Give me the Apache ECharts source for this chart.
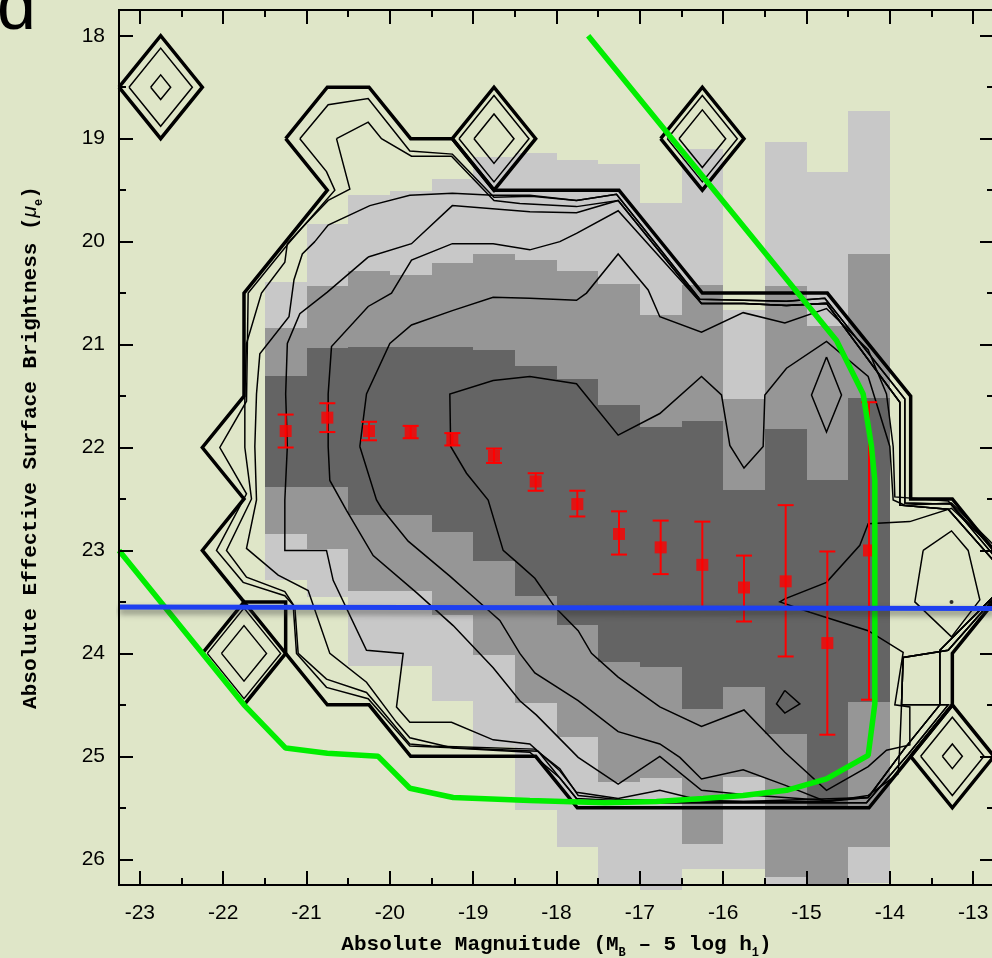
<!DOCTYPE html>
<html><head><meta charset="utf-8">
<script src="https://cdn.jsdelivr.net/npm/echarts@6/dist/echarts.min.js"></script>
<style>html,body{margin:0;padding:0;background:#dfe6c8;}#c{width:992px;height:958px;}</style>
</head><body><div id="c"></div>
<script>
// ---------- axes ----------
const xMin = -23.25, xMax = -12.75, yMin = 17.75, yMax = 26.25;
const xMajor = [-23,-22,-21,-20,-19,-18,-17,-16,-15,-14,-13];
const xMinor = [-22.5,-21.5,-20.5,-19.5,-18.5,-17.5,-16.5,-15.5,-14.5,-13.5];
const yMajor = [18,19,20,21,22,23,24,25,26];
const yMinor = [18.5,19.5,20.5,21.5,22.5,23.5,24.5,25.5];

// ---------- grey histogram (per 0.5-mag column, band edges in mu) ----------
const colLeft = [-21.5,-21,-20.5,-20,-19.5,-19,-18.5,-18,-17.5,-17,-16.5,-16,-15.5,-15,-14.5];
const colWidth = 0.5;
const lightTop = [20.39,19.83,19.55,19.51,19.39,19.18,19.14,19.21,19.25,19.62,19.10,20.66,19.03,19.32,18.73];
const medTop   = [20.84,20.43,20.29,20.32,20.21,20.12,20.18,20.29,20.41,20.71,20.42,21.53,20.43,20.82,20.12];
const darkTop  = [21.31,21.03,21.02,21.02,21.02,21.05,21.21,21.33,21.59,21.80,21.74,22.41,21.82,22.32,21.52];
const darkBot  = [22.38,22.38,22.66,22.66,22.82,23.10,23.44,23.72,24.08,24.13,24.54,24.33,24.78,25.49,24.47];
const medBot   = [22.84,22.99,23.39,23.39,23.63,24.02,24.48,24.81,25.25,25.21,25.85,25.20,26.17,26.25,25.88];
const lightBot = [23.29,23.45,24.12,24.12,24.46,24.91,25.52,25.88,26.25,26.30,26.09,26.09,26.25,26.25,26.23];

// ---------- contours ----------
const contour1 = [[-21.25,19],[-20.75,18.5],[-20.25,18.5],[-19.75,19],[-19.25,19],[-18.75,19.5],[-17.25,19.5],[-16.25,20.5],[-14.75,20.5],[-13.75,21.5],[-13.75,22.5],[-13.25,22.5],[-12.75,23.0],[-12.5,23.25],[-12.75,23.5],[-13.25,24],[-13.25,24.5],[-13.75,25],[-14.25,25.5],[-17.75,25.5],[-18.25,25],[-19.75,25],[-20.25,24.5],[-20.75,24.5],[-21.25,24],[-21.25,23.5],[-21.75,23.5],[-22.25,23],[-21.75,22.5],[-22.25,22],[-21.75,21.5],[-21.75,20.5],[-21.25,20],[-20.75,19.5],[-21.25,19]];
const contour2 = [[-21.08,19.0],[-20.74,18.67],[-20.26,18.61],[-19.76,19.12],[-19.25,19.15],[-18.75,19.57],[-18.3,19.56],[-17.76,19.6],[-17.28,19.54],[-16.28,20.56],[-15.75,20.57],[-15.24,20.58],[-14.78,20.55],[-13.82,21.53],[-13.82,22.54],[-13.27,22.55],[-12.7,23.1],[-12.5,23.3],[-12.7,23.42],[-13.3,23.97],[-13.84,24.04],[-13.86,24.5],[-13.3,24.5],[-13.78,24.98],[-14.28,25.45],[-17.72,25.45],[-18.22,24.95],[-19.76,24.9],[-20.26,24.44],[-20.76,24.33],[-21.12,24.0],[-21.16,23.53],[-21.26,23.44],[-21.76,23.31],[-22.08,23.0],[-21.72,22.45],[-22.04,22.0],[-21.72,21.55],[-21.7,20.5],[-21.22,20.02],[-20.66,19.5],[-20.76,19.32],[-21.08,19.0]];
const contour3 = [[-20.64,19.0],[-20.26,18.84],[-20.10,19.0],[-19.74,19.17],[-19.26,19.17],[-18.75,19.6],[-18.44,19.63],[-17.76,19.66],[-17.26,19.6],[-16.26,20.6],[-15.75,20.6],[-15.24,20.62],[-14.76,20.6],[-13.88,21.56],[-13.88,22.56],[-13.3,22.6],[-12.7,23.15],[-12.5,23.3],[-12.7,23.4],[-13.4,23.97],[-13.4,24.5],[-13.82,24.92],[-14.26,25.4],[-15.76,25.44],[-17.26,25.42],[-17.74,25.38],[-17.96,25.12],[-18.26,24.93],[-19.5,24.9],[-19.76,24.88],[-20.1,24.55],[-20.28,24.38],[-20.76,24.25],[-21.1,24.0],[-21.14,23.55],[-21.26,23.4],[-21.72,23.26],[-21.96,23.0],[-21.66,22.5],[-21.74,22.0],[-21.74,21.48],[-21.72,20.99],[-21.54,20.5],[-21.26,20.2],[-21.23,20.02],[-21.06,19.87],[-20.74,19.6],[-20.48,19.49],[-20.64,19.0]];
const contour4 = [[-20.90,20.0],[-20.74,19.84],[-20.24,19.65],[-19.76,19.55],[-19.25,19.53],[-18.76,19.55],[-18.32,19.55],[-17.76,19.6],[-17.28,19.54],[-16.28,20.56],[-15.75,20.57],[-15.24,20.58],[-14.78,20.55],[-13.82,21.53],[-13.82,22.54],[-13.27,22.55],[-12.7,23.1],[-12.5,23.3],[-12.7,23.42],[-13.3,23.97],[-13.84,24.04],[-13.86,24.5],[-13.3,24.5],[-13.78,24.98],[-14.28,25.45],[-16.76,25.45],[-17.76,25.41],[-17.96,25.21],[-18.32,24.96],[-18.76,24.94],[-19.24,24.92],[-19.76,24.82],[-19.92,24.67],[-20.28,24.28],[-20.72,24.0],[-20.98,23.39],[-21.34,23.24],[-21.72,22.98],[-21.6,22.51],[-21.62,21.99],[-21.60,21.48],[-21.56,21.09],[-21.21,20.73],[-21.15,20.37],[-21.05,20.12],[-20.90,20.0]];
const contour5 = [[-20.26,20.15],[-19.74,20.02],[-19.25,19.65],[-18.32,19.71],[-17.76,19.72],[-17.26,19.6],[-16.26,20.6],[-15.75,20.6],[-15.24,20.62],[-14.76,20.6],[-13.88,21.56],[-13.88,22.56],[-13.3,22.6],[-12.7,23.15],[-12.5,23.3],[-12.7,23.4],[-13.4,23.97],[-13.4,24.5],[-13.82,24.92],[-14.26,25.4],[-14.76,25.44],[-15.76,25.44],[-16.26,25.43],[-16.76,25.33],[-17.26,25.41],[-17.76,25.35],[-17.96,25.14],[-18.32,24.88],[-18.76,24.84],[-19.26,24.67],[-19.76,24.67],[-19.92,24.52],[-19.84,24.0],[-20.28,23.97],[-20.68,23.29],[-20.76,23.0],[-21.26,23.0],[-21.26,22.51],[-21.23,21.99],[-21.25,21.48],[-21.23,20.99],[-21.08,20.70],[-20.75,20.49],[-20.26,20.15]];
const contour6 = [[-20.74,21.99],[-20.74,21.48],[-20.70,21.02],[-20.26,20.63],[-19.98,20.50],[-19.74,20.18],[-19.25,20.02],[-18.76,20.02],[-18.32,20.08],[-17.96,20.0],[-17.76,19.92],[-17.26,19.70],[-16.26,20.6],[-15.75,20.6],[-15.24,20.62],[-14.76,20.6],[-13.88,21.56],[-13.88,22.56],[-13.3,22.6],[-12.7,23.15],[-12.5,23.3],[-12.7,23.4],[-13.4,23.97],[-13.4,24.5],[-13.82,24.92],[-14.26,25.4],[-14.76,25.43],[-15.26,25.4],[-15.76,25.37],[-16.26,25.33],[-16.76,25.0],[-17.26,25.27],[-17.74,25.01],[-18.24,24.6],[-18.44,24.46],[-18.76,24.14],[-19.24,23.73],[-19.68,23.41],[-20.2,23.05],[-20.52,22.61],[-20.72,22.32],[-20.74,21.99]];
const contour7 = [[-20.36,21.99],[-20.28,21.48],[-20.0,20.99],[-19.74,20.81],[-19.25,20.67],[-18.76,20.54],[-18.32,20.55],[-17.76,20.57],[-17.64,20.50],[-17.26,20.12],[-16.90,20.47],[-16.76,20.73],[-16.26,20.88],[-15.76,20.69],[-15.26,20.79],[-14.76,20.65],[-14.26,21.05],[-14.04,21.48],[-13.96,21.99],[-13.94,22.48],[-13.3,22.52],[-12.75,23.0],[-12.5,23.3],[-12.7,23.42],[-13.3,23.97],[-13.84,24.04],[-13.86,24.5],[-13.88,24.9],[-13.9,25.17],[-14.26,25.38],[-14.76,25.44],[-15.26,25.28],[-15.76,25.13],[-16.26,25.22],[-16.52,25.01],[-16.76,24.88],[-17.26,24.76],[-17.74,24.46],[-18.26,24.19],[-18.44,24.0],[-18.68,23.68],[-19.0,23.45],[-19.28,23.25],[-19.78,22.91],[-20.1,22.59],[-20.16,22.51],[-20.36,21.99]];
const contour8 = [[-12.75,22.98],[-13.26,22.59],[-13.76,22.72],[-14.26,22.74],[-14.36,22.95],[-14.76,23.31],[-15.26,23.47],[-15.32,23.50],[-14.96,23.60],[-14.26,23.78],[-13.84,23.99],[-13.94,24.50],[-13.76,24.52],[-13.76,24.89],[-14.04,24.94],[-14.26,25.10],[-14.76,25.33],[-15.26,24.96],[-15.75,24.55],[-16.26,24.71],[-16.76,24.52],[-17.26,24.23],[-17.58,24.00],[-17.74,23.78],[-18.02,23.55],[-18.26,23.27],[-18.44,23.14],[-18.64,23.00],[-18.82,22.51],[-19.08,22.25],[-19.27,21.99],[-19.28,21.48],[-18.76,21.35],[-18.32,21.31],[-17.76,21.38],[-17.26,21.88],[-16.76,21.67],[-16.26,21.31],[-16.02,21.49],[-15.92,21.98],[-15.75,22.20],[-15.52,21.99],[-15.50,21.49],[-15.24,21.23],[-14.76,20.97],[-14.26,21.31],[-14.00,21.99],[-13.96,22.51],[-13.82,22.56],[-13.26,22.54],[-12.75,22.95]];
const loopA = [[-14.76,21.12],[-14.58,21.49],[-14.76,21.85],[-14.94,21.49],[-14.76,21.12]];
const loopB = [[-15.26,24.36],[-15.08,24.49],[-15.26,24.58],[-15.36,24.49],[-15.26,24.36]];
const loopC = [[-13.60,23.0],[-13.26,22.81],[-13.06,23.0],[-12.92,23.48],[-13.26,23.84],[-13.70,23.5],[-13.60,23.0]];
const peakDot = [[-13.26,23.5]];

// isolated single-cell peaks (diamond contours)
const diamondX = [-22.75,-18.75,-16.25,-21.75,-13.25];
const diamondY = [18.5,19.0,19.0,24.0,25.0];
const diamondOuter = [0.5,0.5,0.5,0.5,0.5];
const diamondMid = [0.38,0.42,0.42,0.44,0.38];
const diamondInner = [0.12,0.24,0.28,0.27,0.12];

// ---------- binned means with errors ----------
const errX    = [-21.25,-20.75,-20.25,-19.75,-19.25,-18.75,-18.25,-17.75,-17.25,-16.75,-16.25,-15.75,-15.25,-14.75,-14.25];
const errMean = [21.84,21.71,21.84,21.85,21.92,22.08,22.33,22.55,22.84,22.97,23.14,23.36,23.30,23.90,23.00];
const errLo   = [21.68,21.57,21.75,21.79,21.86,22.01,22.25,22.42,22.62,22.71,22.72,23.05,22.56,23.01,21.56];
const errHi   = [22.00,21.85,21.93,21.91,21.98,22.15,22.42,22.67,23.04,23.23,23.56,23.69,24.03,24.79,24.45];

// ---------- selection limits ----------
const greenCurve = [[-23.25,23.0],[-21.75,24.5],[-21.25,24.92],[-20.75,24.97],[-20.14,25.0],[-19.76,25.31],[-19.24,25.4],[-18.32,25.43],[-17.42,25.45],[-16.8,25.44],[-16.24,25.41],[-15.76,25.38],[-15.24,25.33],[-14.76,25.22],[-14.26,24.99],[-14.18,24.49],[-14.18,22.32],[-14.22,21.99],[-14.32,21.48],[-14.64,20.96],[-17.62,18.0]];
const blueLine = [[-23.25,23.55],[-12.75,23.565]];

// ---------- build ----------
const greyLevels = ['#c8c8c8','#969696','#646464'];
const histData = [];
colLeft.forEach((x0, i) => {
  const x1 = x0 + colWidth;
  histData.push([x0, x1, lightTop[i], medTop[i], 0]);
  histData.push([x0, x1, medTop[i], darkTop[i], 1]);
  histData.push([x0, x1, darkTop[i], darkBot[i], 2]);
  histData.push([x0, x1, darkBot[i], medBot[i], 1]);
  histData.push([x0, x1, medBot[i], lightBot[i], 0]);
});

function diamond(cx, cy, r) {
  return [[cx - r, cy], [cx, cy - r], [cx + r, cy], [cx, cy + r], [cx - r, cy]];
}
function lineSeries(data, width, z) {
  return { type: 'line', data: data, symbol: 'none', silent: true, z: z || 3,
    lineStyle: { color: '#000', width: width, join: 'miter' }, animation: false };
}

const series = [];
series.push({
  type: 'custom', z: 1, silent: true, data: histData, encode: { x: [0, 1], y: [2, 3] },
  renderItem: function (params, api) {
    const a = api.coord([api.value(0), api.value(2)]);
    const b = api.coord([api.value(1), api.value(3)]);
    return { type: 'rect', shape: { x: Math.round(a[0]), y: Math.round(a[1]), width: Math.round(b[0]) - Math.round(a[0]), height: Math.round(b[1]) - Math.round(a[1]) },
      style: { fill: greyLevels[api.value(4)] } };
  }
});
series.push(lineSeries(contour1, 3.5));
[contour2, contour3, contour4, contour5, contour6, contour7, contour8, loopA, loopB, loopC].forEach(c => series.push(lineSeries(c, 1.5)));
diamondX.forEach((cx, i) => {
  series.push(lineSeries(diamond(cx, diamondY[i], diamondOuter[i]), 3.5));
  series.push(lineSeries(diamond(cx, diamondY[i], diamondMid[i]), 1.5));
  series.push(lineSeries(diamond(cx, diamondY[i], diamondInner[i]), 1.5));
});
series.push({ type: 'scatter', data: peakDot, symbol: 'circle', symbolSize: 4, itemStyle: { color: '#000' }, z: 3, silent: true });

series.push({
  type: 'custom', z: 4, silent: true, data: errX.map((x, i) => [x, errLo[i], errHi[i]]), encode: { x: 0, y: [1, 2] },
  renderItem: function (params, api) {
    const t = api.coord([api.value(0), api.value(1)]);
    const b = api.coord([api.value(0), api.value(2)]);
    const hw = 8, st = { stroke: '#ff0000', lineWidth: 2 };
    return { type: 'group', children: [
      { type: 'line', shape: { x1: t[0], y1: t[1], x2: b[0], y2: b[1] }, style: st },
      { type: 'line', shape: { x1: t[0] - hw, y1: t[1], x2: t[0] + hw, y2: t[1] }, style: st },
      { type: 'line', shape: { x1: b[0] - hw, y1: b[1], x2: b[0] + hw, y2: b[1] }, style: st }
    ] };
  }
});
series.push({ type: 'scatter', z: 4, silent: true, data: errX.map((x, i) => [x, errMean[i]]), symbol: 'rect', symbolSize: 12, itemStyle: { color: '#ff0000' } });
series.push({ type: 'line', z: 5, data: greenCurve, symbol: 'none', silent: true, lineStyle: { color: '#00ee00', width: 5.5 } });
series.push({ type: 'line', z: 6, data: blueLine, symbol: 'none', silent: true,
  lineStyle: { color: '#1e40f0', width: 5, shadowColor: 'rgba(40,40,40,0.55)', shadowBlur: 6, shadowOffsetY: 4 } });

const tickStyle = { color: '#000', width: 2 };
function xAx(position, ticks, len, labels, extra) {
  return Object.assign({
    type: 'value', min: xMin, max: xMax, position: position, z: 10,
    axisLine: { show: true, onZero: false, lineStyle: { color: '#000', width: 2 } },
    axisTick: { show: true, inside: true, length: len, customValues: ticks, lineStyle: tickStyle },
    axisLabel: labels ? { show: true, customValues: ticks, fontSize: 21, color: '#000', fontFamily: 'Liberation Sans', margin: 18 } : { show: false },
    splitLine: { show: false }
  }, extra || {});
}
function yAx(position, ticks, len, labels, extra) {
  return Object.assign({
    type: 'value', min: yMin, max: yMax, inverse: true, position: position, z: 10,
    axisLine: { show: true, onZero: false, lineStyle: { color: '#000', width: 2 } },
    axisTick: { show: true, inside: true, length: len, customValues: ticks, lineStyle: tickStyle },
    axisLabel: labels ? { show: true, customValues: ticks, fontSize: 21, color: '#000', fontFamily: 'Liberation Sans', margin: 14 } : { show: false },
    splitLine: { show: false }
  }, extra || {});
}
const monoT = { fontFamily: 'Liberation Mono', fontWeight: 'bold', fontSize: 21, color: '#000' };
const monoS = { fontFamily: 'Liberation Mono', fontWeight: 'bold', fontSize: 12, color: '#000', verticalAlign: 'bottom', padding: [0, 0, -4, 0] };

const option = {
  backgroundColor: '#dfe6c8',
  animation: false,
  grid: { left: 119, top: 10, width: 875, height: 875, show: false, containLabel: false, outerBoundsMode: 'none' },
  xAxis: [
    xAx('bottom', xMajor, 14, true, {
      name: '{t|Absolute Magnuitude (M}{s|B}{t| – 5 log h}{s|1}{t|)}',
      nameLocation: 'middle', nameGap: 49,
      nameTextStyle: { rich: { t: monoT, s: monoS } }
    }),
    xAx('bottom', xMinor, 7, false),
    xAx('top', xMajor, 14, false),
    xAx('top', xMinor, 7, false)
  ],
  yAxis: [
    yAx('left', yMajor, 14, true, {
      name: '{t|Absolute Effective Surface Brightness (}{g|μ}{s|e}{t|)}',
      nameLocation: 'middle', nameGap: 78,
      nameTextStyle: { rich: { t: monoT, g: { fontFamily: 'Liberation Sans', fontStyle: 'italic', fontSize: 21, color: '#000' }, s: monoS } }
    }),
    yAx('left', yMinor, 7, false),
    yAx('right', yMajor, 14, false),
    yAx('right', yMinor, 7, false)
  ],
  graphic: [{ type: 'text', x: -3, y: 10, z: 20,
    style: { text: 'd', fontSize: 70, fontFamily: 'Liberation Sans', fill: '#000', align: 'left', verticalAlign: 'middle' } }],
  series: series
};
const chart = echarts.init(document.getElementById('c'));
chart.setOption(option);
</script></body></html>
